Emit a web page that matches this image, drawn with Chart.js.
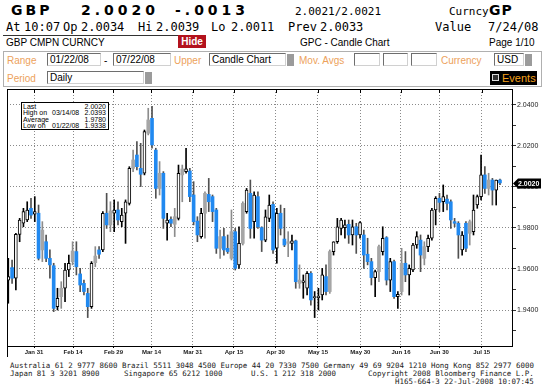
<!DOCTYPE html>
<html>
<head>
<meta charset="utf-8">
<title>GBP Candle Chart</title>
<script src="https://cdn.jsdelivr.net/npm/chart.js@4.4.1/dist/chart.umd.min.js"></script>
<style>
  html, body { margin: 0; padding: 0; background: #fff; }
  #screen { position: relative; width: 546px; height: 392px; overflow: hidden; background: #fff; color: #000; font-family: "Liberation Sans", Arial, sans-serif; }
  .t { position: absolute; white-space: pre; line-height: 1; }
  .big { font-family: "DejaVu Sans", sans-serif; font-weight: bold; font-size: 14px; letter-spacing: 4px; }
  .mono { font-family: "DejaVu Sans Mono", monospace; font-size: 12px; }
  .mono11 { font-family: "DejaVu Sans Mono", monospace; font-size: 11px; }
  .small { font-size: 10px; }
  .lbl { font-size: 10px; color: #eda25c; }
  .box { position: absolute; box-sizing: border-box; height: 13px; background: #fff; border: 1px solid #6e6e6e; border-right-color: #d0d0d0; border-bottom-color: #d0d0d0; font-size: 10px; line-height: 11px; padding-left: 2px; white-space: pre; }
  .drop { position: absolute; width: 7px; height: 12px; background: #9b9b9b; }
  .foot { position: absolute; white-space: pre; font-family: "DejaVu Sans Mono", monospace; font-size: 7.45px; line-height: 1; color: #1a1a1a; }
  #chart { position: absolute; left: 0; top: 80px; }
  #stats { position: absolute; left: 21px; top: 102px; width: 88px; height: 28px; box-sizing: border-box; border: 1px solid #000; background: #fff; font: 7px "Liberation Sans", Arial, sans-serif; color: #000; }
  #stats div { position: absolute; left: 1px; right: 2px; height: 6.5px; line-height: 6.5px; white-space: pre; }
  #stats b { position: absolute; right: 0; font-weight: normal; }
  #stats i { position: absolute; left: 29px; font-style: normal; }
</style>
</head>
<body>
<div id="screen">
  <!-- quote header -->
  <div class="t big" style="left:11px;top:3px;letter-spacing:3px">GBP</div>
  <div class="t big" style="left:81px;top:3px">2.0020</div>
  <div class="t big" style="left:175px;top:3px">-.0013</div>
  <div class="t mono11" style="left:295px;top:6px">2.0021/2.0021</div>
  <div class="t mono11" style="left:449px;top:6px">Curncy</div>
  <div class="t big" style="left:489px;top:3px;letter-spacing:1px">GP</div>

  <div class="t mono" style="left:6px;top:21px">At</div>
  <div class="t mono" style="left:24px;top:21px">10:07</div>
  <div class="t mono" style="left:63px;top:21px">Op</div>
  <div class="t mono" style="left:81px;top:21px">2.0034</div>
  <div class="t mono" style="left:138px;top:21px">Hi</div>
  <div class="t mono" style="left:156px;top:21px">2.0039</div>
  <div class="t mono" style="left:211px;top:21px">Lo</div>
  <div class="t mono" style="left:231px;top:21px">2.0011</div>
  <div class="t mono" style="left:288px;top:21px">Prev</div>
  <div class="t mono" style="left:320px;top:21px">2.0033</div>
  <div class="t mono" style="left:435px;top:21px">Value</div>
  <div class="t mono" style="left:488px;top:21px">7/24/08</div>

  <!-- title bar -->
  <div style="position:absolute;left:3px;top:35px;width:175px;height:13px;border-top:1px solid #333;background:#fff"></div>
  <div class="t small" style="left:6px;top:38px">GBP CMPN CURNCY</div>
  <div class="t small" style="left:178px;top:35px;width:28px;height:13px;background:#b3121d;color:#fff;text-align:center;line-height:13px;font-weight:bold">Hide</div>
  <div class="t small" style="left:300px;top:38px">GPC - Candle Chart</div>
  <div class="t small" style="left:489px;top:38px">Page 1/10</div>

  <!-- settings panel -->
  <div style="position:absolute;left:3px;top:51px;width:539px;height:36px;border:1px solid #b0b0b0;box-sizing:border-box"></div>
  <div class="t lbl" style="left:7px;top:56px">Range</div>
  <div class="box" style="left:47px;top:53px;width:54px">01/22/08</div>
  <div class="t small" style="left:104px;top:56px">-</div>
  <div class="box" style="left:113px;top:53px;width:58px">07/22/08</div>
  <div class="t lbl" style="left:174px;top:56px">Upper</div>
  <div class="box" style="left:209px;top:53px;width:77px">Candle Chart</div>
  <div class="drop" style="left:287px;top:54px"></div>
  <div class="t lbl" style="left:299px;top:56px">Mov. Avgs</div>
  <div class="box" style="left:354px;top:53px;width:26px"></div>
  <div class="box" style="left:383px;top:53px;width:25px"></div>
  <div class="box" style="left:411px;top:53px;width:26px"></div>
  <div class="t lbl" style="left:441px;top:56px">Currency</div>
  <div class="box" style="left:494px;top:53px;width:30px">USD</div>
  <div class="drop" style="left:525px;top:54px"></div>
  <div class="t lbl" style="left:7px;top:74px">Period</div>
  <div class="box" style="left:47px;top:71px;width:97px">Daily</div>
  <div class="drop" style="left:145px;top:72px"></div>
  <div class="t small" style="left:490px;top:71px;width:47px;height:14px;background:#000;color:#f7a21b;line-height:14px;font-size:11px;padding-left:12px;box-sizing:border-box">Events</div>
  <div style="position:absolute;left:492px;top:74px;width:7px;height:7px;border:1px solid #ddd;box-sizing:border-box;background:#333"></div>

  <canvas id="chart" width="546" height="280"></canvas>

  <div id="stats">
    <div style="top:0.5px">Last<b>2.0020</b></div>
    <div style="top:7px">High on<i>03/14/08</i><b>2.0393</b></div>
    <div style="top:13.5px">Average<b>1.9780</b></div>
    <div style="top:20px">Low on<i>01/22/08</i><b>1.9338</b></div>
  </div>

  <!-- footer -->
  <div class="foot" style="left:10px;top:362px">Australia 61 2 9777 8600 Brazil 5511 3048 4500 Europe 44 20 7330 7500 Germany 49 69 9204 1210 Hong Kong 852 2977 6000</div>
  <div class="foot" style="left:10px;top:370px">Japan 81 3 3201 8900</div>
  <div class="foot" style="left:124px;top:370px">Singapore 65 6212 1000</div>
  <div class="foot" style="left:251px;top:370px">U.S. 1 212 318 2000</div>
  <div class="foot" style="left:368px;top:370px">Copyright 2008 Bloomberg Finance L.P.</div>
  <div class="foot" style="left:395px;top:378px">H165-664-3 22-Jul-2008 10:07:45</div>
</div>

<script>
// GBP daily candles, 22 Jan - 22 Jul 2008 (one entry per session)
const open = [
  1.9546, 1.9607, 1.9555, 1.9769, 1.9823, 1.9839, 1.9896, 1.9868, 1.9872, 1.9790,
  1.9733, 1.9652, 1.9616, 1.9416, 1.9506, 1.9506, 1.9595, 1.9688, 1.9685, 1.9576,
  1.9530, 1.9481, 1.9416, 1.9663, 1.9693, 1.9693, 1.9872, 1.9883, 1.9872, 1.9888,
  1.9831, 1.9872, 1.9920, 2.0132, 2.0156, 2.0091, 2.0067, 2.0327, 2.0335, 2.0180,
  2.0067, 2.0067, 1.9823, 1.9842, 1.9855, 1.9847, 2.0088, 2.0075, 2.0078, 1.9961,
  1.9834, 1.9758, 1.9969, 1.9964, 1.9953, 1.9888, 1.9758, 1.9758, 1.9701, 1.9782,
  1.9782, 1.9620, 1.9920, 1.9880, 1.9969, 1.9831, 1.9953, 1.9802, 1.9741, 1.9847,
  1.9915, 1.9701, 1.9872, 1.9746, 1.9733, 1.9725, 1.9737, 1.9546, 1.9535, 1.9506,
  1.9579, 1.9460, 1.9460, 1.9473, 1.9563, 1.9685, 1.9685, 1.9733, 1.9798, 1.9802,
  1.9818, 1.9766, 1.9806, 1.9766, 1.9766, 1.9672, 1.9636, 1.9558, 1.9709, 1.9685,
  1.9753, 1.9546, 1.9636, 1.9465, 1.9628, 1.9628, 1.9571, 1.9595, 1.9717, 1.9741,
  1.9709, 1.9709, 1.9750, 1.9888, 1.9945, 1.9928, 1.9941, 1.9928, 1.9831, 1.9823,
  1.9693, 1.9823, 1.9831, 1.9782, 1.9912, 1.9953, 2.0059, 2.0034, 2.0034, 1.9985,
  2.0034
];
const high = [
  1.9652, 1.9644, 1.9774, 1.9847, 1.9896, 1.9928, 1.9945, 1.9953, 1.9912, 1.9831,
  1.9766, 1.9693, 1.9628, 1.9506, 1.9538, 1.9628, 1.9668, 1.9733, 1.9733, 1.9603,
  1.9546, 1.9506, 1.9636, 1.9709, 1.9709, 1.9880, 1.9969, 1.9928, 1.9937, 1.9928,
  1.9896, 1.9937, 2.0099, 2.0180, 2.0221, 2.0213, 2.0278, 2.0384, 2.0393, 2.0189,
  2.0124, 2.0075, 1.9872, 1.9855, 1.9896, 2.0107, 2.0107, 2.0189, 2.0091, 2.0026,
  1.9855, 1.9896, 1.9977, 2.0042, 1.9961, 1.9896, 1.9790, 1.9798, 1.9766, 1.9888,
  1.9798, 1.9806, 1.9928, 1.9993, 2.0034, 1.9977, 1.9977, 1.9806, 1.9888, 1.9961,
  1.9928, 1.9896, 1.9912, 1.9896, 1.9782, 1.9766, 1.9741, 1.9620, 1.9571, 1.9587,
  1.9587, 1.9490, 1.9506, 1.9603, 1.9620, 1.9693, 1.9733, 1.9847, 1.9847, 1.9839,
  1.9839, 1.9839, 1.9823, 1.9831, 1.9790, 1.9750, 1.9652, 1.9595, 1.9717, 1.9806,
  1.9758, 1.9652, 1.9644, 1.9490, 1.9701, 1.9685, 1.9620, 1.9725, 1.9782, 1.9766,
  1.9733, 1.9766, 1.9896, 1.9953, 1.9969, 2.0010, 1.9961, 1.9937, 1.9847, 1.9831,
  1.9782, 1.9831, 1.9839, 1.9961, 1.9961, 2.0156, 2.0099, 2.0067, 2.0042, 2.0034,
  2.0039
];
const low = [
  1.9433, 1.9530, 1.9498, 1.9733, 1.9806, 1.9831, 1.9847, 1.9831, 1.9644, 1.9636,
  1.9636, 1.9555, 1.9392, 1.9400, 1.9408, 1.9441, 1.9563, 1.9620, 1.9571, 1.9490,
  1.9473, 1.9363, 1.9408, 1.9611, 1.9652, 1.9685, 1.9798, 1.9782, 1.9782, 1.9815,
  1.9806, 1.9725, 1.9912, 2.0075, 2.0083, 2.0002, 2.0059, 2.0254, 2.0189, 1.9945,
  1.9961, 1.9798, 1.9741, 1.9806, 1.9758, 1.9839, 1.9928, 2.0067, 1.9928, 1.9815,
  1.9733, 1.9750, 1.9750, 1.9880, 1.9831, 1.9676, 1.9652, 1.9668, 1.9676, 1.9644,
  1.9595, 1.9603, 1.9717, 1.9872, 1.9750, 1.9750, 1.9798, 1.9685, 1.9733, 1.9831,
  1.9676, 1.9628, 1.9766, 1.9709, 1.9660, 1.9693, 1.9506, 1.9506, 1.9457, 1.9473,
  1.9424, 1.9363, 1.9400, 1.9449, 1.9473, 1.9481, 1.9668, 1.9725, 1.9766, 1.9750,
  1.9725, 1.9717, 1.9676, 1.9750, 1.9603, 1.9620, 1.9522, 1.9465, 1.9538, 1.9668,
  1.9522, 1.9490, 1.9457, 1.9408, 1.9473, 1.9538, 1.9473, 1.9587, 1.9701, 1.9587,
  1.9620, 1.9685, 1.9741, 1.9815, 1.9880, 1.9880, 1.9888, 1.9798, 1.9806, 1.9652,
  1.9668, 1.9685, 1.9717, 1.9766, 1.9896, 1.9937, 1.9969, 1.9961, 1.9912, 1.9912,
  2.0011
];
const close = [
  1.9563, 1.9555, 1.9769, 1.9839, 1.9880, 1.9888, 1.9863, 1.9880, 1.9652, 1.9693,
  1.9652, 1.9620, 1.9408, 1.9457, 1.9465, 1.9595, 1.9628, 1.9636, 1.9611, 1.9522,
  1.9490, 1.9416, 1.9628, 1.9631, 1.9672, 1.9872, 1.9815, 1.9815, 1.9888, 1.9839,
  1.9863, 1.9928, 2.0091, 2.0091, 2.0099, 2.0062, 2.0270, 2.0262, 2.0205, 1.9993,
  1.9993, 1.9847, 1.9839, 1.9823, 1.9818, 2.0067, 2.0059, 2.0088, 1.9953, 1.9831,
  1.9766, 1.9872, 1.9872, 1.9928, 1.9880, 1.9701, 1.9701, 1.9693, 1.9685, 1.9652,
  1.9603, 1.9725, 1.9725, 1.9985, 1.9798, 1.9961, 1.9806, 1.9741, 1.9855, 1.9912,
  1.9693, 1.9872, 1.9798, 1.9717, 1.9725, 1.9737, 1.9538, 1.9530, 1.9542, 1.9579,
  1.9449, 1.9465, 1.9468, 1.9571, 1.9490, 1.9490, 1.9733, 1.9806, 1.9839, 1.9815,
  1.9766, 1.9806, 1.9766, 1.9826, 1.9668, 1.9636, 1.9558, 1.9587, 1.9587, 1.9750,
  1.9546, 1.9636, 1.9465, 1.9476, 1.9490, 1.9571, 1.9603, 1.9717, 1.9758, 1.9668,
  1.9652, 1.9750, 1.9888, 1.9945, 1.9925, 1.9953, 1.9920, 1.9839, 1.9823, 1.9766,
  1.9766, 1.9701, 1.9774, 1.9888, 1.9953, 2.0059, 1.9993, 1.9993, 1.9985, 2.0034,
  2.0020
];
// session type as shaded by the terminal: u = up, d = down, m = mixed
const session = [
  'u','d','u','u','u','u','d','u','d','m',
  'd','d','d','u','m','u','u','m','d','d',
  'd','d','u','m','d','u','d','m','u','d',
  'u','u','u','m','d','d','u','m','d','d',
  'm','d','u','d','m','u','m','u','d','d',
  'd','u','m','d','d','d','m','d','d','m',
  'd','u','m','u','d','u','d','d','u','u',
  'd','u','d','d','m','u','d','m','u','u',
  'd','u','u','u','d','m','u','u','u','u',
  'd','u','d','u','d','d','d','u','m','u',
  'd','u','d','u','m','d','u','u','u','d',
  'm','u','u','u','d','u','d','d','d','d',
  'u','d','m','u','u','u','d','m','d','u',
  'd'
];

const xTickLabels = ['Jan 31', 'Feb 14', 'Feb 29', 'Mar 14', 'Mar 31', 'Apr 15',
                     'Apr 30', 'May 15', 'May 30', 'Jun 16', 'Jun 30', 'Jul 15'];
// where the terminal puts each date marker, in session units
const xTickAt = [6.80, 17.11, 27.81, 37.86, 48.76, 59.67, 70.65, 81.88, 93.07, 103.83, 113.96, 125.17];
const yLabelValues = [1.94, 1.96, 1.98, 2.00, 2.02, 2.04];
const yMinorValues = [1.93, 1.95, 1.97, 1.99, 2.01, 2.03];

const BLUE = '#2189f0';
const GREY = '#a6a6a6';

const isUp = i => close[i] > open[i];
const bodyFill = i => isUp(i) ? '#ffffff' : (session[i] === 'm' ? GREY : BLUE);
const bodyEdge = i => isUp(i) ? '#000000' : bodyFill(i);
const wickColor = i => isUp(i) ? '#000000' : (session[i] === 'm' ? '#8c8c8c' : '#505050');

const isMajor = v => yLabelValues.some(m => Math.abs(m - v) < 1e-6);

// plot frame, marker ticks on the top edge and last price tag
const framePlugin = {
  id: 'frame',
  afterDraw(chart) {
    const { ctx, chartArea: a, scales } = chart;
    ctx.save();
    ctx.strokeStyle = '#000';
    ctx.lineWidth = 1;
    ctx.strokeRect(a.left + 0.5, a.top + 0.5, a.right - a.left, a.bottom - a.top);
    ctx.beginPath();
    ctx.moveTo(a.left + 0.5, a.bottom);
    ctx.lineTo(a.left + 0.5, a.bottom + 11);
    scales.x.ticks.forEach(t => {
      const px = Math.round(scales.x.getPixelForValue(t.value)) + 0.5;
      ctx.moveTo(px, a.top);
      ctx.lineTo(px, a.top + 4);
    });
    ctx.stroke();

    const last = close[close.length - 1];
    const py = Math.round(scales.y.getPixelForValue(last)) + 0.5;
    const x0 = a.right + 1;
    ctx.fillStyle = '#000';
    ctx.beginPath();
    ctx.moveTo(x0, py);
    ctx.lineTo(x0 + 5, py - 5);
    ctx.lineTo(x0 + 28, py - 5);
    ctx.lineTo(x0 + 28, py + 5);
    ctx.lineTo(x0 + 5, py + 5);
    ctx.closePath();
    ctx.fill();
    ctx.fillStyle = '#fff';
    ctx.font = 'bold 7px "Liberation Sans", Arial, sans-serif';
    ctx.textAlign = 'left';
    ctx.textBaseline = 'middle';
    ctx.fillText(last.toFixed(4), x0 + 5, py + 0.5);
    ctx.restore();
  }
};

new Chart(document.getElementById('chart').getContext('2d'), {
  type: 'bar',
  data: {
    datasets: [
      {
        label: 'Body',
        data: open.map((o, i) => ({ x: i, y: [o, close[i]] })),
        backgroundColor: c => bodyFill(c.dataIndex || 0),
        borderColor: c => bodyEdge(c.dataIndex || 0),
        borderWidth: c => isUp(c.dataIndex || 0) ? 1 : 0,
        borderSkipped: false,
        barThickness: 3,
        grouped: false,
        order: 0
      },
      {
        label: 'Range',
        data: low.map((l, i) => ({ x: i, y: [l, high[i]] })),
        backgroundColor: c => wickColor(c.dataIndex || 0),
        borderWidth: 0,
        barThickness: 1,
        grouped: false,
        order: 1
      }
    ]
  },
  options: {
    responsive: false,
    animation: false,
    layout: { padding: { left: 7, top: 9, right: 0, bottom: 0 } },
    plugins: {
      legend: { display: false },
      tooltip: { enabled: false }
    },
    scales: {
      x: {
        type: 'linear',
        min: -0.344,
        max: 133.18,
        offset: false,
        bounds: 'data',
        afterBuildTicks: axis => { axis.ticks = xTickAt.map(v => ({ value: v })); },
        afterFit: axis => { axis.height = 14; },
        ticks: {
          autoSkip: false,
          maxRotation: 0,
          padding: 1,
          color: '#1a1a1a',
          font: { family: '"Liberation Sans Narrow", "Liberation Sans", Arial, sans-serif', size: 6, weight: 'bold' },
          callback: (v, i) => xTickLabels[i]
        },
        grid: { offset: false, color: '#8a8a8a', tickColor: '#000', tickLength: 2 },
        border: { display: false, dash: [1, 2] }
      },
      y: {
        type: 'linear',
        position: 'right',
        min: 1.92244,
        max: 2.0478,
        bounds: 'data',
        afterBuildTicks: axis => {
          axis.ticks = yMinorValues.concat(yLabelValues).sort((a, b) => a - b).map(v => ({ value: v }));
        },
        afterFit: axis => { axis.width = 34; },
        ticks: {
          autoSkip: false,
          padding: 1,
          color: '#222',
          font: { family: '"Liberation Sans", Arial, sans-serif', size: 7 },
          callback: v => isMajor(v) ? v.toFixed(4) : ''
        },
        grid: {
          color: c => (c.tick && isMajor(c.tick.value)) ? '#8a8a8a' : 'rgba(0,0,0,0)',
          tickColor: '#333',
          tickLength: 4
        },
        border: { display: false, dash: [1, 2] }
      }
    }
  },
  plugins: [framePlugin]
});
</script>
</body>
</html>
